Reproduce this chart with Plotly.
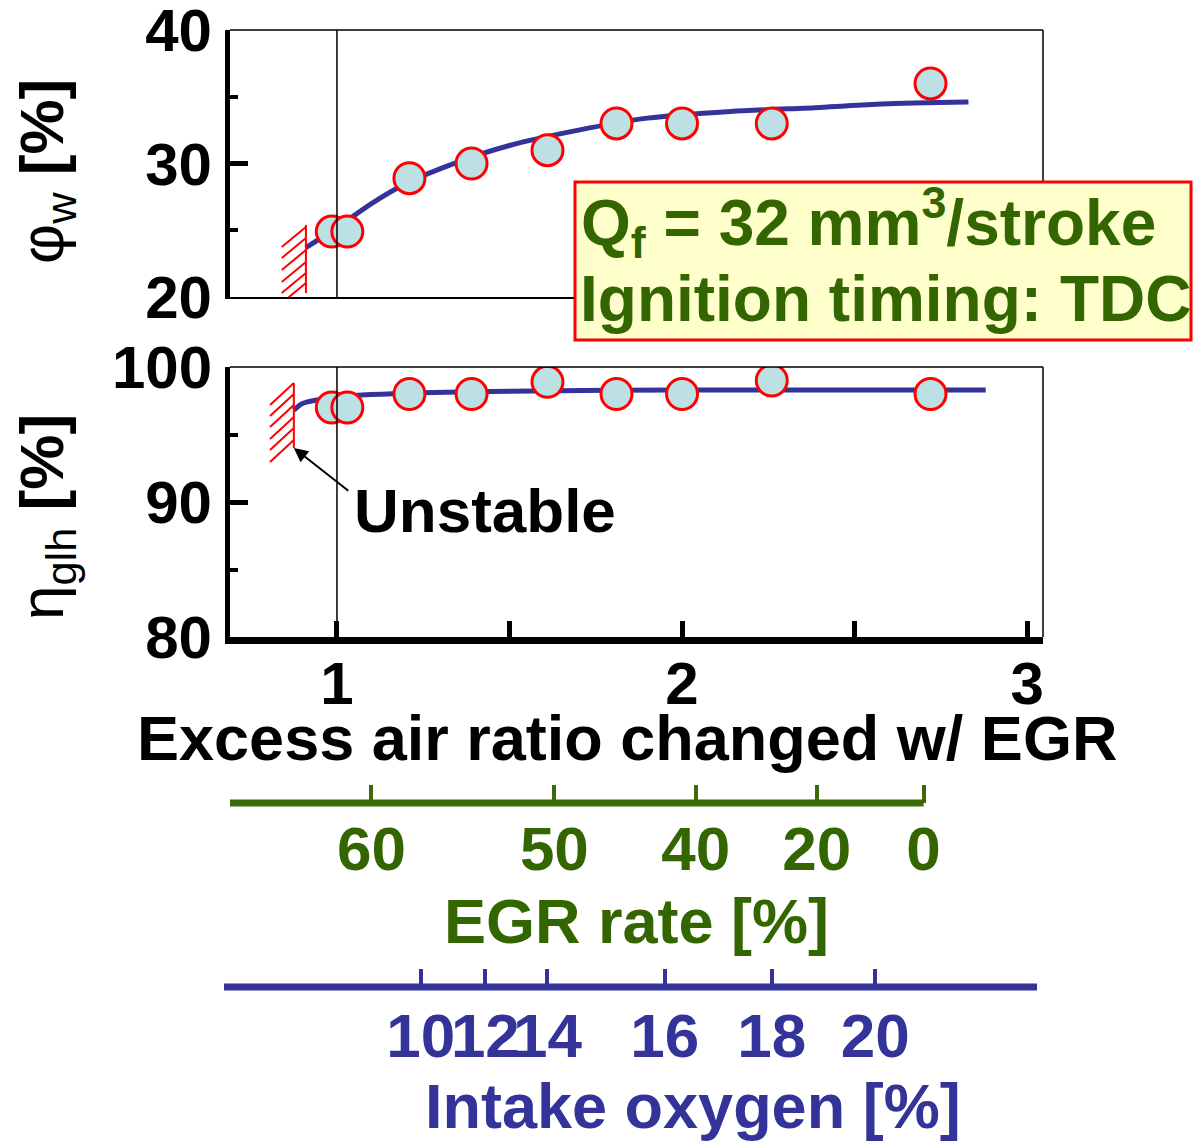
import plotly.graph_objects as go

# ---- measured data: excess air ratio varied with EGR ----
LAMBDA = [0.985, 1.03, 1.21, 1.39, 1.61, 1.81, 2.00, 2.26, 2.72]
PHI_W = [24.9, 24.9, 28.9, 30.0, 31.0, 33.0, 33.0, 33.0, 36.0]      # cooling loss ratio [%]
ETA_GLH = [97.0, 97.0, 98.0, 98.0, 98.9, 98.0, 98.0, 99.0, 98.0]   # combustion efficiency [%]

# ---- trend curves ----
TREND_LAMBDA_W = [0.91, 1.0, 1.1, 1.2, 1.35, 1.5, 1.7, 1.9, 2.14, 2.4, 2.58, 2.83]
TREND_PHI_W = [23.7, 25.2, 27.0, 28.5, 30.1, 31.35, 32.5, 33.4, 33.9, 34.2, 34.45, 34.6]
TREND_LAMBDA_ETA = [0.875, 0.9, 0.95, 1.0, 1.2, 1.5, 2.0, 2.88]
TREND_ETA = [96.8, 97.3, 97.6, 97.8, 98.05, 98.2, 98.3, 98.3]

# ---- axis ticks ----
X_TICKS = [1, 2, 3]
X_MINOR = [1.5, 2.5]
Y_TOP_TICKS = [20, 30, 40]
Y_TOP_MINOR = [25, 35]
Y_BOT_TICKS = [80, 90, 100]
Y_BOT_MINOR = [85, 95]

# secondary scales: EGR rate and intake O2 located on the excess-air-ratio scale
EGR_TICK_LAMBDA = [1.10, 1.63, 2.04, 2.39, 2.70]
EGR_TICK_TEXT = ["60", "50", "40", "20", "0"]
O2_TICK_LAMBDA = [1.243, 1.43, 1.61, 1.95, 2.26, 2.56]
O2_TICK_TEXT = ["10", "12", "14", "16", "18", "20"]

# unstable-combustion limit markers
UNSTABLE_TOP = dict(lam=0.91, lam_left=0.84, y_top=25.4, y_bot=20.3,
                    hatch=[25.24, 24.42, 23.52, 22.62, 21.8, 21.05], drop=1.5)
UNSTABLE_BOT = dict(lam=0.875, lam_left=0.806, y_top=98.8, y_bot=94.0,
                    hatch=[98.81, 98.0, 97.19, 96.3, 95.48, 94.59], drop=1.63)

W, H = 1193, 1143
X_RANGE = [0.69, 3.046]

BLACK = "black"
RED = "#ff0000"
NAVY = "#333399"
GREEN = "#336600"
GREEN_LINE = "#3a6b0a"
FILL = "#bce0e3"
FONT = "Liberation Sans, Arial, sans-serif"


def fx(p):
    return p / W


def fy(p):
    return 1 - p / H


fig = go.Figure()

marker = dict(size=31, color=FILL, line=dict(color=RED, width=3))
line = dict(color=NAVY, width=5, shape="spline", smoothing=0.8)

fig.add_trace(go.Scatter(x=TREND_LAMBDA_W, y=TREND_PHI_W, mode="lines", line=line,
                         xaxis="x2", yaxis="y2", hoverinfo="skip"))
fig.add_trace(go.Scatter(x=LAMBDA, y=PHI_W, mode="markers", marker=marker,
                         xaxis="x2", yaxis="y2"))
fig.add_trace(go.Scatter(x=TREND_LAMBDA_ETA, y=TREND_ETA, mode="lines", line=line,
                         xaxis="x", yaxis="y", hoverinfo="skip"))
fig.add_trace(go.Scatter(x=LAMBDA, y=ETA_GLH, mode="markers", marker=marker,
                         xaxis="x", yaxis="y"))
# carriers for the EGR and intake-oxygen scales
fig.add_trace(go.Scatter(x=EGR_TICK_LAMBDA, y=[None] * len(EGR_TICK_LAMBDA), mode="markers",
                         xaxis="x3", yaxis="y", hoverinfo="skip"))
fig.add_trace(go.Scatter(x=O2_TICK_LAMBDA, y=[None] * len(O2_TICK_LAMBDA), mode="markers",
                         xaxis="x4", yaxis="y", hoverinfo="skip"))

tick_font = dict(family=FONT, size=60, color=BLACK, weight="bold")
x_dom = [fx(230), fx(1043)]
common = dict(showgrid=False, zeroline=False, automargin=False, ticklabeloverflow="allow")

fig.update_layout(
    width=W, height=H,
    margin=dict(l=0, r=0, t=0, b=0),
    paper_bgcolor="white", plot_bgcolor="rgba(0,0,0,0)",
    showlegend=False,
    font=dict(family=FONT),
    xaxis=dict(domain=x_dom, range=X_RANGE, anchor="y", **common,
               showline=True, linecolor=BLACK, linewidth=7,
               tickmode="array", tickvals=X_TICKS, tickangle=0,
               ticks="inside", ticklen=16, tickwidth=5, tickcolor=BLACK,
               minor=dict(tickmode="array", tickvals=X_MINOR, ticks="inside",
                          ticklen=16, tickwidth=5, tickcolor=BLACK, showgrid=False),
               tickfont=tick_font, ticklabelstandoff=-12),
    yaxis=dict(domain=[fy(637), fy(367)], range=[80, 100], anchor="x", **common,
               showline=True, linecolor=BLACK, linewidth=5,
               tickmode="array", tickvals=Y_BOT_TICKS,
               ticks="inside", ticklen=18, tickwidth=5, tickcolor=BLACK,
               minor=dict(tickmode="array", tickvals=Y_BOT_MINOR, ticks="inside",
                          ticklen=8, tickwidth=4, tickcolor=BLACK, showgrid=False),
               tickfont=tick_font, ticklabelstandoff=1),
    xaxis2=dict(domain=x_dom, matches="x", anchor="y2", **common,
                showline=True, linecolor=BLACK, linewidth=1.5, ticks="",
                showticklabels=False),
    yaxis2=dict(domain=[fy(297), fy(30)], range=[20, 40], anchor="x2", **common,
                showline=True, linecolor=BLACK, linewidth=5,
                tickmode="array", tickvals=Y_TOP_TICKS,
                ticks="inside", ticklen=18, tickwidth=5, tickcolor=BLACK,
                minor=dict(tickmode="array", tickvals=Y_TOP_MINOR, ticks="inside",
                           ticklen=8, tickwidth=4, tickcolor=BLACK, showgrid=False),
                tickfont=tick_font, ticklabelstandoff=1),
    xaxis3=dict(overlaying="x", anchor="free", position=fy(803), side="bottom",
                range=X_RANGE, **common, showline=False, tickangle=0,
                tickmode="array", tickvals=EGR_TICK_LAMBDA, ticktext=EGR_TICK_TEXT,
                ticks="inside", ticklen=18, tickwidth=4, tickcolor=GREEN_LINE,
                tickfont=dict(family=FONT, size=62, color=GREEN, weight="bold"),
                ticklabelstandoff=4),
    xaxis4=dict(overlaying="x", anchor="free", position=fy(987), side="bottom",
                range=X_RANGE, **common, showline=False, tickangle=0,
                tickmode="array", tickvals=O2_TICK_LAMBDA, ticktext=O2_TICK_TEXT,
                ticks="inside", ticklen=18, tickwidth=4, tickcolor=NAVY,
                tickfont=dict(family=FONT, size=62, color=NAVY, weight="bold"),
                ticklabelstandoff=7),
)

shapes = []
# thin frame lines and the lambda = 1 reference line
for xr, yr in (("x2", "y2"), ("x", "y")):
    shapes.append(dict(type="line", xref=f"{xr} domain", yref=f"{yr} domain",
                       x0=0, x1=1, y0=1, y1=1, line=dict(color=BLACK, width=1.5)))
    shapes.append(dict(type="line", xref=f"{xr} domain", yref=f"{yr} domain",
                       x0=1, x1=1, y0=0, y1=1, line=dict(color=BLACK, width=1.5)))
    shapes.append(dict(type="line", xref=xr, yref=f"{yr} domain",
                       x0=1, x1=1, y0=0, y1=1, line=dict(color=BLACK, width=1.5)))

# hatched unstable limits
for lim, xr, yr in ((UNSTABLE_TOP, "x2", "y2"), (UNSTABLE_BOT, "x", "y")):
    shapes.append(dict(type="line", xref=xr, yref=yr, x0=lim["lam"], x1=lim["lam"],
                       y0=lim["y_bot"], y1=lim["y_top"], line=dict(color=RED, width=2)))
    for yh in lim["hatch"]:
        shapes.append(dict(type="line", xref=xr, yref=yr, x0=lim["lam"], y0=yh,
                           x1=lim["lam_left"], y1=yh - lim["drop"],
                           line=dict(color=RED, width=2)))

# secondary scale lines
shapes.append(dict(type="line", xref="x", yref="paper", x0=X_RANGE[0], x1=EGR_TICK_LAMBDA[-1],
                   y0=fy(803), y1=fy(803), line=dict(color=GREEN_LINE, width=7)))
shapes.append(dict(type="line", xref="paper", yref="paper", x0=fx(224), x1=fx(1037),
                   y0=fy(987), y1=fy(987), line=dict(color=NAVY, width=7)))

# condition box
shapes.append(dict(type="rect", xref="paper", yref="paper", x0=fx(575), x1=fx(1191),
                   y0=fy(340), y1=fy(182), fillcolor="#ffffcc",
                   line=dict(color=RED, width=3), layer="above"))
fig.update_layout(shapes=shapes)

bold = dict(family=FONT, weight="bold")
ann = [
    dict(text="φ<sub>w</sub> <b>[%]</b>", x=fx(46), y=fy(172), textangle=-90,
         font=dict(family=FONT, size=62, color=BLACK)),
    dict(text="η<sub>glh</sub> <b>[%]</b>", x=fx(46), y=fy(517), textangle=-90,
         font=dict(family=FONT, size=62, color=BLACK)),
    dict(text="Excess air ratio changed w/ EGR", x=fx(627), y=fy(738),
         font=dict(size=63, color=BLACK, **bold)),
    dict(text="EGR rate [%]", x=fx(636), y=fy(921),
         font=dict(size=63, color=GREEN, **bold)),
    dict(text="Intake oxygen [%]", x=fx(693), y=fy(1106),
         font=dict(size=63, color=NAVY, **bold)),
    dict(text="Q<sub>f</sub> = 32 mm<sup>3</sup>/stroke", x=fx(579), y=fy(222),
         xanchor="left", font=dict(size=64, color=GREEN, **bold)),
    dict(text="Ignition timing: TDC", x=fx(578), y=fy(299),
         xanchor="left", font=dict(size=64, color=GREEN, **bold)),
    dict(text="Unstable", x=fx(352), y=fy(510), xanchor="left",
         font=dict(size=62, color=BLACK, **bold)),
]
for a in ann:
    a.setdefault("xref", "paper")
    a.setdefault("yref", "paper")
    a.setdefault("showarrow", False)
    a.setdefault("xanchor", "center")
    a.setdefault("yanchor", "middle")
    fig.add_annotation(**a)

# pointer from the label to the unstable limit
fig.add_annotation(text="", xref="x", yref="y", x=UNSTABLE_BOT["lam"],
                   y=UNSTABLE_BOT["y_bot"], ax=56, ay=44, showarrow=True,
                   arrowhead=2, arrowsize=1.4, arrowwidth=2, arrowcolor=BLACK)

fig.write_html("out.html")
